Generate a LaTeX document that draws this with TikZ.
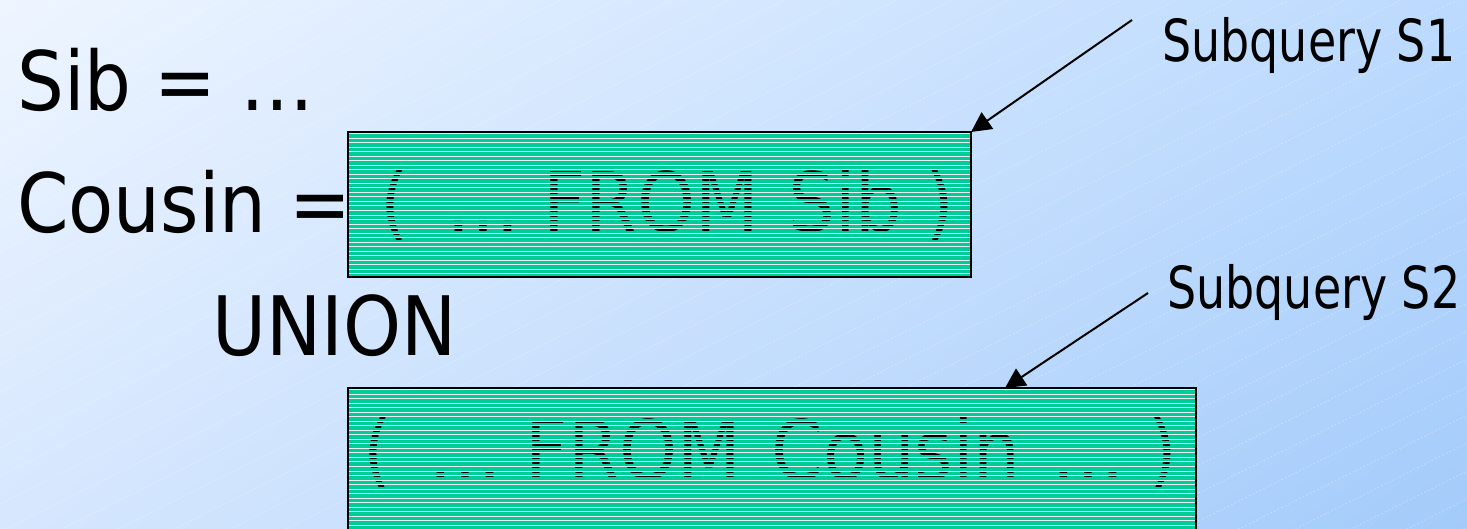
\documentclass[tikz,border=0pt]{standalone}
\usepackage{fontspec}
\setmainfont{DejaVu Sans Condensed}
\newfontfamily\tagfam[FakeStretch=0.88]{DejaVu Sans Condensed}
\usepackage{tikz}
\usetikzlibrary{arrows.meta,shadings}
\definecolor{bgTL}{HTML}{EEF5FF}
\definecolor{bgTR}{HTML}{BCDAFE}
\definecolor{bgBL}{HTML}{D6E7FE}
\definecolor{bgBR}{HTML}{A3CBFA}
\definecolor{boxteal}{HTML}{00CC99}
\definecolor{stripewhite}{HTML}{E6EEF0}
\newcommand{\bigfont}{\fontsize{41}{49}\selectfont}
\newcommand{\tagfont}{\tagfam\fontsize{29}{35}\selectfont}
\newcommand{\stripebox}[3]{%
  \begin{scope}[shift={(#1.north west)}]
    \clip (0,0) rectangle (#2,#3);
    \foreach \k in {0,...,40}{
      \fill[stripewhite] (0,\k*4.53+1) rectangle (#2,\k*4.53+2);
      \fill[boxteal] (0,\k*4.53+3.4) rectangle (#2,\k*4.53+5.53);
    }
  \end{scope}
  \draw[line width=1.25pt] (#1.north west) rectangle (#1.south east)}
\tikzset{
  qbox/.style={draw=black,line width=1.25pt,fill=boxteal,anchor=north west,
    inner sep=0pt,outer sep=0pt},
  bigtext/.style={anchor=base west,inner sep=0pt,font=\bigfont},
  tagtext/.style={anchor=base west,inner sep=0pt,font=\tagfont},
  pointer/.style={line width=1pt,-{Triangle[length=10pt,width=10pt]}},
  hatch/.style={white,opacity=0.3,line width=0.4pt,dash pattern=on 1pt off 1pt}
}
\begin{document}
\begin{tikzpicture}[x=0.5pt,y=-0.5pt]
  \path[use as bounding box,clip] (0,0) rectangle (1467,529);
  \shade[upper left=bgTL,upper right=bgTR,lower left=bgBL,lower right=bgBR]
    (0,0) rectangle (1467,529);
  \foreach \i in {0,...,46}
    \draw[hatch] (0,\i*28) -- (1467,\i*28-733);
  \node[bigtext] (sib) at (17,111) {Sib = …};
  \node[bigtext] (cousin) at (17,233) {Cousin =};
  \node[bigtext] (union) at (212,355) {UNION};
  \node[qbox,minimum width=311.5pt,minimum height=72.5pt] (s1) at (348,132) {};
  \node[bigtext] (s1text) at (380,232) {(\, … FROM \hspace{3pt}Sib )};
  \stripebox{s1}{623}{145};
  \node[qbox,minimum width=424pt,minimum height=90pt] (s2) at (348,388) {};
  \node[bigtext] (s2text) at (363,479)
    {(\hspace{6.5pt} … FROM \hspace{3.5pt}Cousin \hspace{3.5pt}… )};
  \stripebox{s2}{848}{400};
  \node[tagtext] (s1tag) at (1162,62) {Subquery S1};
  \node[tagtext] (s2tag) at (1167,308) {Subquery S2};
  \coordinate (s1tail) at (1132,20);
  \coordinate (s2tail) at (1148,293);
  \draw[pointer] (s1tail) -- (s1.north east);
  \draw[pointer] (s2tail) -- ([xshift=328.5pt]s2.north west);
\end{tikzpicture}
\end{document}
